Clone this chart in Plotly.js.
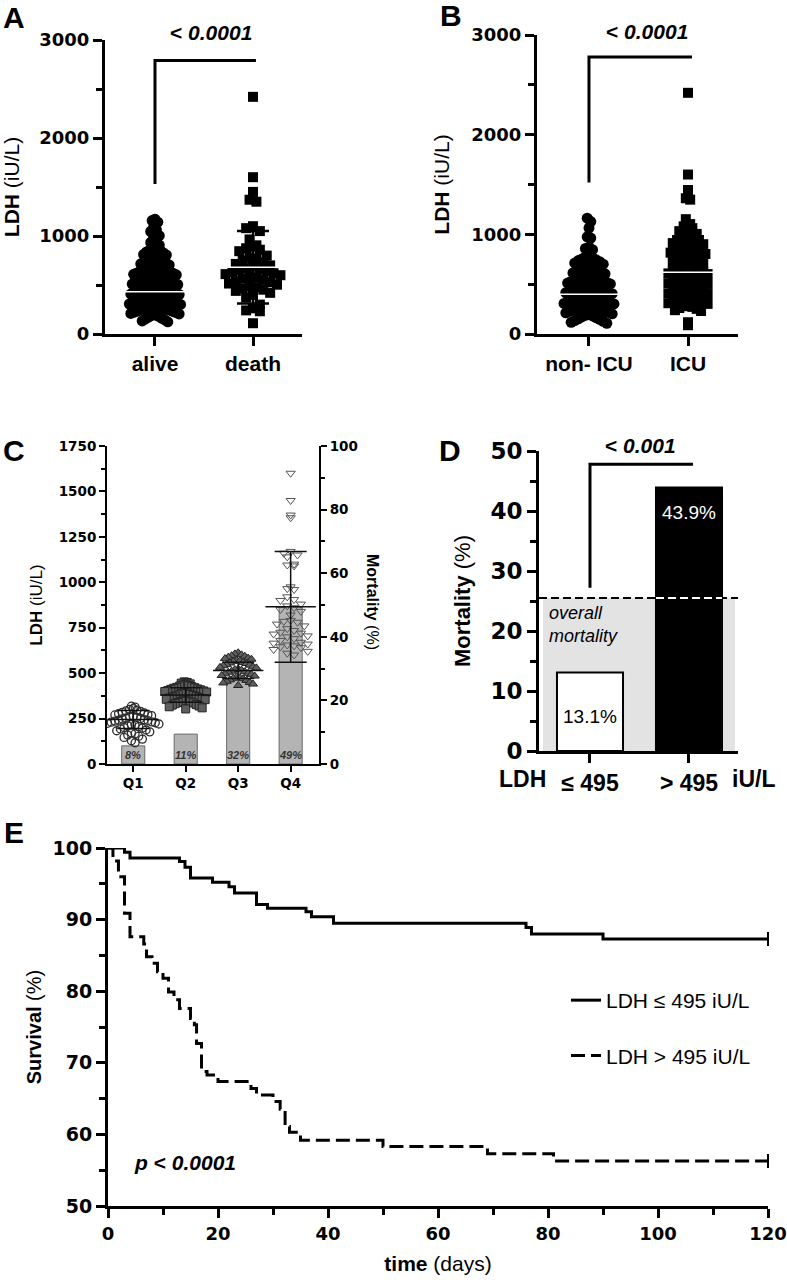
<!DOCTYPE html>
<html><head><meta charset="utf-8">
<script src="https://cdn.plot.ly/plotly-3.0.1.min.js"></script>
<style>html,body{margin:0;padding:0;background:#fff}#chart{width:787px;height:1286px}</style>
</head><body><div id="chart"></div>
<script>
// ================= DATA =================
// Panel A : LDH by outcome
const groupsA = ["alive", "death"];
const ldhAlive = [1172,1158,1141,1088,1063,1046,1003,978,958,934,907,884,
  871,866,853,849,838,827,812,806,791,783,772,765,753,749,738,731,720,716,704,
  699,690,688,677,673,664,661,653,647,643,634,630,621,617,609,604,
  598,591,589,578,576,567,564,555,552,544,541,533,529,520,518,509,505,
  498,495,486,483,474,472,463,459,452,449,441,438,430,426,419,416,408,403,
  399,395,386,384,375,373,364,361,353,350,342,339,331,328,321,317,309,306,302,
  297,294,286,283,275,272,264,261,254,250,243,240,232,228,221,218,210,205,
  199,191,186,177,171,160,152,144,133,124];
const ldhDeath = [2420,1600,1450,1370,1350,1100,1090,1080,1050,965,905,890,875,860,845,
  800,780,765,750,730,715,700,690,672,660,651,640,632,620,611,600,590,576,565,552,
  540,528,515,503,490,478,465,452,440,420,398,372,300,262,241,232,110];
const meanA = [430, 680];
const sdA = [190, 370];
const pA = "0.0001";

// Panel B : LDH by ICU admission
const groupsB = ["non- ICU", "ICU"];
const ldhNonICU = [1162,1128,1063,975,962,872,858,846,
  785,772,763,752,744,737,726,712,
  701,693,681,674,663,652,644,631,622,613,604,
  597,589,581,574,563,558,548,542,533,527,517,511,502,
  498,489,484,475,470,461,456,447,442,433,428,419,414,405,
  399,391,386,377,372,363,358,349,344,335,330,321,316,307,302,
  296,287,282,273,268,259,254,245,240,231,226,217,212,203,
  196,188,181,171,164,153,146,135,128,117,108];
const ldhICU = [2420,1600,1445,1362,1348,1152,1103,1091,1080,1062,1032,1004,986,968,957,948,
  939,924,912,901,889,878,871,859,851,838,829,816,803,792,
  781,769,758,749,733,724,711,697,688,672,664,651,641,
  629,622,608,601,589,582,568,561,547,542,528,521,
  509,502,488,481,469,462,448,441,427,422,408,401,
  388,382,369,361,349,343,328,321,309,302,
  291,279,272,261,252,239,231,118,88];
const meanB = [400, 620];
const sdB = [200, 360];
const pB = "0.0001";

// Panel C : LDH quartiles and mortality
const quartiles = ["Q1", "Q2", "Q3", "Q4"];
const ldhQ1 = [318,313,305,301,296,292,289,284,281,277,272,270,266,262,260,257,253,251,248,244,
  242,239,236,232,230,227,224,220,218,214,210,206,201,198,193,187,183,177,172,166,159,153,146,137,128,117];
const ldhQ2 = [452,449,445,441,439,435,431,429,426,422,420,417,413,411,408,404,402,399,396,392,
  390,387,383,381,378,374,372,369,365,363,360,356,354,351,347,345,342,338,336,332,327,324,319,315,309,303];
const ldhQ3 = [612,606,601,596,593,588,583,580,577,571,568,565,559,556,553,547,544,541,535,532,
  529,523,520,517,511,508,505,499,496,493,487,484,481,475,472,469,463,460,455,449,446,440,432];
const ldhQ4 = [1600,1450,1370,1355,1170,1160,1150,1140,1100,1095,1090,975,965,960,920,905,900,880,
  870,860,850,840,820,790,785,780,770,760,745,735,725,720,715,705,700,690,680,670,665,660,
  655,650,645,640,630,620,610,600];
const meanQ = [245, 380, 515, 865];
const sdQ = [50, 40, 45, 305];
const mortQbar = [5.7, 9.4, 26.8, 49.4];
const mortQlabel = ["8%", "11%", "32%", "49%"];

// Panel D : mortality by LDH cut-off
const groupsD = ["\u2264 495", "> 495"];
const mortD = [13.1, 43.9];
const overallMort = 25.5;
const pD = "0.001";

// Panel E : Kaplan-Meier survival
const kmNames = ["LDH \u2264 495 iU/L", "LDH > 495 iU/L"];
const kmLowT = [0, 3, 4, 13, 14, 15, 19, 22, 23, 27, 29, 36, 37, 41, 76, 77, 90, 120];
const kmLowS = [100, 99.4, 98.6, 98.1, 97.3, 95.8, 95.2, 94.6, 93.7, 92.1, 91.6, 91.1, 90.4, 89.5, 88.9, 88.0, 87.3, 87.3];
const kmHighT = [0, 0.9, 1.9, 3, 4, 6.5, 7, 8, 9, 10, 11, 12, 13, 15, 15.7, 16.1, 17, 18, 20, 26, 27, 30, 31.3, 32.2, 33, 35, 50, 69, 81, 120];
const kmHighS = [100, 98.2, 96.0, 90.9, 87.6, 86.6, 84.8, 83.9, 82.7, 81.8, 79.9, 78.8, 77.6, 76.2, 75.3, 72.7, 68.8, 68.3, 67.4, 66.4, 65.5, 64.6, 63.5, 61.1, 60.3, 59.2, 58.3, 57.3, 56.3, 56.3];
const pE = "0.0001";

// ================= HELPERS =================
const W = 787, H = 1286;
const fx = px => px / W;
const fy = py => 1 - py / H;
const SANS = "Liberation Sans, Arial, sans-serif";
const WIDE = "DejaVu Sans, sans-serif";

// GraphPad-like scatter: values binned, spread horizontally inside each bin
function swarm(vals, center, bin, step) {
  const bins = {};
  vals.forEach((v, i) => { const k = Math.floor(v / bin); (bins[k] = bins[k] || []).push(i); });
  const xs = new Array(vals.length);
  Object.values(bins).forEach(idx => {
    idx.sort((a, b) => vals[b] - vals[a]);
    const n = idx.length;
    idx.forEach((id, j) => {
      let off;
      if (n % 2 === 1) off = j === 0 ? 0 : (j % 2 === 1 ? -Math.ceil(j / 2) : Math.ceil(j / 2));
      else { const m = Math.floor(j / 2) + 0.5; off = j % 2 === 0 ? -m : m; }
      xs[id] = center + off * step;
    });
  });
  return xs;
}

function ax(o) {
  return Object.assign({
    showline: true, linewidth: 3, linecolor: "#000", ticks: "outside", ticklen: 9, tickwidth: 3,
    tickcolor: "#000", showgrid: false, zeroline: false, fixedrange: true, automargin: false
  }, o);
}
function minor(dt, len, w) { return { ticks: "outside", dtick: dt, ticklen: len || 6, tickwidth: w || 3, tickcolor: "#000", showgrid: false }; }

const traces = [];
const BLK = "#000";

// ---------- Panel A ----------
traces.push({ x: [0, 1], y: meanA, xaxis: "x", yaxis: "y", mode: "markers", marker: { size: 1, color: "rgba(0,0,0,0)" },
  error_y: { type: "data", array: sdA, width: 16, thickness: 2.5, color: BLK }, showlegend: false, hoverinfo: "skip" });
traces.push({ x: swarm(ldhAlive, 0, 100, 0.029), y: ldhAlive, xaxis: "x", yaxis: "y", mode: "markers",
  marker: { symbol: "circle", size: 11, color: BLK }, showlegend: false, name: groupsA[0] });
traces.push({ x: swarm(ldhDeath, 1, 100, 0.07), y: ldhDeath, xaxis: "x", yaxis: "y", mode: "markers",
  marker: { symbol: "square", size: 10, color: BLK }, showlegend: false, name: groupsA[1] });
traces.push({ x: [0, 1], y: meanA, xaxis: "x", yaxis: "y", mode: "markers",
  marker: { symbol: "line-ew", size: 58, line: { color: "#fff", width: 1.5 } }, showlegend: false, hoverinfo: "skip" });

// ---------- Panel B ----------
traces.push({ x: [0, 1], y: meanB, xaxis: "x2", yaxis: "y2", mode: "markers", marker: { size: 1, color: "rgba(0,0,0,0)" },
  error_y: { type: "data", array: sdB, width: 16, thickness: 2.5, color: BLK }, showlegend: false, hoverinfo: "skip" });
traces.push({ x: swarm(ldhNonICU, 0, 100, 0.036), y: ldhNonICU, xaxis: "x2", yaxis: "y2", mode: "markers",
  marker: { symbol: "circle", size: 11, color: BLK }, showlegend: false, name: groupsB[0] });
traces.push({ x: swarm(ldhICU, 1, 100, 0.044), y: ldhICU, xaxis: "x2", yaxis: "y2", mode: "markers",
  marker: { symbol: "square", size: 10, color: BLK }, showlegend: false, name: groupsB[1] });
traces.push({ x: [0, 1], y: meanB, xaxis: "x2", yaxis: "y2", mode: "markers",
  marker: { symbol: "line-ew", size: 66, line: { color: "#fff", width: 1.5 } }, showlegend: false, hoverinfo: "skip" });

// ---------- Panel C ----------
traces.push({ type: "bar", x: [0, 1, 2, 3], y: mortQbar, xaxis: "x3", yaxis: "y3", width: 0.44,
  marker: { color: "#b4b4b4", line: { color: "#6a6a6a", width: 1 } }, showlegend: false, name: "Mortality" });
const qData = [ldhQ1, ldhQ2, ldhQ3, ldhQ4];
const qSym = ["circle-open", "square", "triangle-up", "triangle-down-open"];
const qStep = [0.07, 0.057, 0.063, 0.13];
qData.forEach((d, i) => {
  const open = qSym[i].indexOf("open") >= 0;
  traces.push({ x: swarm(d, i, 44, qStep[i]), y: d, xaxis: "x3", yaxis: "y4", mode: "markers",
    marker: { symbol: qSym[i], size: 8, color: open ? (i === 0 ? "#2e2e2e" : "#555") : "#5e5e5e",
      line: { color: i === 0 ? "#2e2e2e" : "#222", width: i === 0 ? 1.3 : 1 } }, showlegend: false, name: quartiles[i] });
});
traces.push({ x: [0, 1, 2, 3], y: meanQ, xaxis: "x3", yaxis: "y4", mode: "markers",
  marker: { symbol: "line-ew", size: 36, line: { color: "#111", width: 1.5 } },
  error_y: { type: "data", array: sdQ, width: 16, thickness: 1.5, color: "#111" }, showlegend: false, hoverinfo: "skip" });

// ---------- Panel D ----------
traces.push({ type: "bar", x: [0, 1], y: mortD, xaxis: "x4", yaxis: "y5", width: 0.667,
  marker: { color: ["#fff", "#000"], line: { color: "#000", width: 2 } }, showlegend: false, name: "Mortality" });

// ---------- Panel E ----------
traces.push({ x: kmLowT, y: kmLowS, xaxis: "x5", yaxis: "y6", mode: "lines", line: { shape: "hv", color: BLK, width: 3 },
  name: kmNames[0], legendgroup: "a" });
traces.push({ x: kmHighT, y: kmHighS, xaxis: "x5", yaxis: "y6", mode: "lines",
  line: { shape: "hv", color: BLK, width: 3, dash: "14px,6px" }, name: kmNames[1], legendgroup: "b" });
traces.push({ x: [kmLowT[kmLowT.length - 1], kmHighT[kmHighT.length - 1]],
  y: [kmLowS[kmLowS.length - 1], kmHighS[kmHighS.length - 1]], xaxis: "x5", yaxis: "y6", mode: "markers",
  marker: { symbol: "line-ns", size: 10, line: { color: BLK, width: 2 } }, cliponaxis: false, showlegend: false, hoverinfo: "skip" });

// ================= LAYOUT =================
const tickBoldWide = s => ({ family: WIDE, size: s, weight: "bold", color: "#000" });
const tickBold = s => ({ family: SANS, size: s, weight: "bold", color: "#000" });

const layout = {
  width: W, height: H, margin: { l: 0, r: 0, t: 0, b: 0 }, paper_bgcolor: "#fff", plot_bgcolor: "rgba(0,0,0,0)",
  font: { family: SANS, color: "#000" },
  showlegend: true,
  legend: { x: fx(566), y: fy(980), xanchor: "left", yanchor: "top", font: { family: SANS, size: 21, color: "#000" },
    bgcolor: "rgba(0,0,0,0)", tracegroupgap: 25, traceorder: "grouped", itemwidth: 30 },
  // A
  xaxis: ax({ domain: [fx(105), fx(302)], range: [-0.51, 1.5], anchor: "y", tickmode: "array", tickvals: [0, 1],
    ticktext: groupsA, tickfont: tickBold(21) }),
  yaxis: ax({ domain: [fy(334), fy(40)], range: [0, 3000], anchor: "x", dtick: 1000, tickfont: tickBoldWide(18),
    minor: minor(500), title: { text: "<b>LDH</b> (iU/L)", font: { family: SANS, size: 21 }, standoff: 16 } }),
  // B
  xaxis2: ax({ domain: [fx(537), fx(738)], range: [-0.525, 1.505], anchor: "y2", tickmode: "array", tickvals: [0, 1],
    ticktext: groupsB, tickfont: tickBold(21) }),
  yaxis2: ax({ domain: [fy(334), fy(35)], range: [0, 3000], anchor: "x2", dtick: 1000, tickfont: tickBoldWide(18),
    minor: minor(500), title: { text: "<b>LDH</b> (iU/L)", font: { family: SANS, size: 21 }, standoff: 16 } }),
  // C (base = mortality on right, overlay = LDH on left)
  xaxis3: ax({ domain: [fx(107), fx(319)], range: [-0.5, 3.54], anchor: "y3", linewidth: 2, tickwidth: 2, ticklen: 6,
    tickmode: "array", tickvals: [0, 1, 2, 3], ticktext: quartiles, tickfont: tickBoldWide(13.5) }),
  yaxis3: ax({ domain: [fy(764), fy(446)], range: [0, 100], anchor: "x3", side: "right", dtick: 20, linewidth: 2,
    tickwidth: 2, ticklen: 6, minor: minor(10, 4, 2), tickfont: tickBoldWide(13.5) }),
  yaxis4: ax({ domain: [fy(764), fy(446)], range: [0, 1750], anchor: "x3", overlaying: "y3", side: "left", dtick: 250,
    linewidth: 2, tickwidth: 2, ticklen: 6, minor: minor(125, 4, 2), tickfont: tickBoldWide(13.5),
    title: { text: "<b>LDH</b> (iU/L)", font: { family: SANS, size: 17 }, standoff: 12 } }),
  // D
  xaxis4: ax({ domain: [fx(539), fx(738)], range: [-0.515, 1.495], anchor: "y5", tickmode: "array", tickvals: [0, 1],
    ticktext: groupsD, tickfont: tickBold(23) }),
  yaxis5: ax({ domain: [fy(751), fy(451)], range: [0, 50], anchor: "x4", dtick: 10, minor: minor(5),
    tickfont: tickBoldWide(23), title: { text: "<b>Mortality</b> (%)", font: { family: SANS, size: 22 }, standoff: 14 } }),
  // E
  xaxis5: ax({ domain: [fx(108), fx(768)], range: [0, 120], anchor: "y6", dtick: 20, minor: minor(10),
    tickfont: tickBoldWide(18), title: { text: "<b>time</b> (days)", font: { family: SANS, size: 21 }, standoff: 14 } }),
  yaxis6: ax({ domain: [fy(1206), fy(848)], range: [50, 100], anchor: "x5", dtick: 10, minor: minor(5),
    tickfont: tickBoldWide(19), title: { text: "<b>Survival</b> (%)", font: { family: SANS, size: 20 }, standoff: 6 } }),
  shapes: [],
  annotations: []
};

// significance brackets
const bracket = (xr, yr, x0, x1, yBottom, yTop) => ({ type: "path", xref: xr, yref: yr,
  path: `M ${x0},${yBottom} L ${x0},${yTop} L ${x1},${yTop}`, line: { color: "#000", width: 3 } });
layout.shapes.push(bracket("x", "y", 0, 1.03, 1530, 2790));
layout.shapes.push(bracket("x2", "y2", 0, 1.04, 1520, 2780));
layout.shapes.push(bracket("x4", "y5", 0, 1.04, 27.2, 47.8));

// Panel D background band + overall mortality dashed line
layout.shapes.push({ type: "rect", xref: "x4", yref: "y5", x0: -0.475, x1: 1.465, y0: 0, y1: overallMort,
  fillcolor: "#e3e3e3", line: { width: 0 }, layer: "below" });
layout.shapes.push({ type: "line", xref: "x4 domain", yref: "y5", x0: 0, x1: 1, y0: overallMort, y1: overallMort,
  line: { color: "#000", width: 2, dash: "8px,4px" }, layer: "above" });
layout.shapes.push({ type: "line", xref: "x4", yref: "y5", x0: 1 - 0.333, x1: 1 + 0.333, y0: overallMort, y1: overallMort,
  line: { color: "#fff", width: 2, dash: "8px,4px" }, layer: "above" });

const A = layout.annotations;
const ann = (o) => A.push(Object.assign({ showarrow: false, xref: "paper", yref: "paper", xanchor: "center", yanchor: "middle" }, o));
// panel letters
[["A", 14, 17], ["B", 451, 15], ["C", 14, 450], ["D", 450, 450], ["E", 14, 832]].forEach(l =>
  ann({ text: "<b>" + l[0] + "</b>", x: fx(l[1]), y: fy(l[2]), font: { family: SANS, size: 30, color: "#000" } }));
// p values
ann({ text: "<b>< <i>" + pA + "</i></b>", x: fx(211), y: fy(33), font: { family: SANS, size: 21 } });
ann({ text: "<b>< <i>" + pB + "</i></b>", x: fx(647), y: fy(31), font: { family: SANS, size: 21 } });
ann({ text: "<b>< <i>" + pD + "</i></b>", x: fx(640), y: fy(446), font: { family: SANS, size: 21 } });
ann({ text: "<b><i>p</i> < <i>" + pE + "</i></b>", x: fx(132), y: fy(1162), xanchor: "left", font: { family: SANS, size: 21 } });
// Panel C right title + bar labels
ann({ text: "<b>Mortality</b> (%)", x: fx(373), y: fy(602), textangle: 90, font: { family: SANS, size: 16 } });
mortQlabel.forEach((t, i) => ann({ text: "<b><i>" + t + "</i></b>", xref: "x3", yref: "y3", x: i, y: 2.9,
  font: { family: SANS, size: 11, color: "#333" } }));
// Panel D labels
ann({ text: "<b>LDH</b>", x: fx(522), y: fy(779), font: { family: SANS, size: 23 } });
ann({ text: "<b>iU/L</b>", x: fx(753), y: fy(779), font: { family: SANS, size: 23 } });
ann({ text: mortD[0].toFixed(1) + "%", xref: "x4", yref: "y5", x: 0, y: 5.7, font: { family: SANS, size: 19, color: "#000" } });
ann({ text: mortD[1].toFixed(1) + "%", xref: "x4", yref: "y5", x: 1, y: 39.8, font: { family: SANS, size: 19, color: "#fff" } });
ann({ text: "<i>overall<br>mortality</i>", xref: "x4", yref: "y5", x: -0.43, y: 21, xanchor: "left", align: "left",
  font: { family: SANS, size: 18, color: "#000" } });

Plotly.newPlot("chart", traces, layout, { displayModeBar: false, staticPlot: true });
</script></body></html>
